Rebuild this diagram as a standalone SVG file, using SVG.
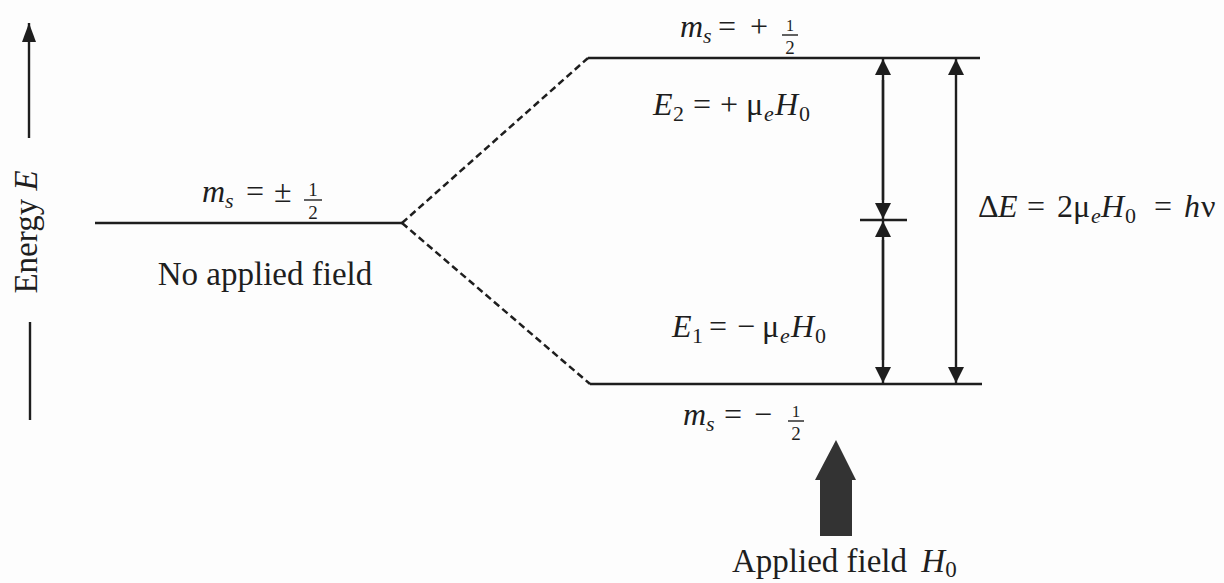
<svg xmlns="http://www.w3.org/2000/svg" width="1224" height="583" viewBox="0 0 1224 583">
<defs>
<style>
text{font-family:"Liberation Serif","Times New Roman",serif;font-size:32px;fill:#1e1e1e}
.big{font-size:33px}
.i{font-style:italic}
.sub{font-size:22px}
.fr{font-size:19px;text-anchor:middle}
.lvl{stroke:#1e1e1e;stroke-width:2.5;fill:none}
.bar{stroke:#1e1e1e;stroke-width:1.4}
.dash{stroke:#1e1e1e;stroke-width:2.5;stroke-dasharray:7,4;fill:none}
.ar{stroke:#1e1e1e;stroke-width:2.4;fill:none}
</style>
<marker id="ah" viewBox="0 0 16 16" refX="16" refY="8" markerWidth="16" markerHeight="16" markerUnits="userSpaceOnUse" orient="auto">
<path d="M0,0 L16,8 L0,16 Z" fill="#1e1e1e"/>
</marker>
<marker id="ahE" viewBox="0 0 19 14" refX="19" refY="7" markerWidth="19" markerHeight="14" markerUnits="userSpaceOnUse" orient="auto">
<path d="M0,0 L19,7 L0,14 Z" fill="#1e1e1e"/>
</marker>
</defs>
<rect width="1224" height="583" fill="#fdfdfd"/>

<g id="energy-axis">
<line class="ar" x1="29" y1="138" x2="29" y2="23" marker-end="url(#ahE)"/>
<line class="ar" x1="30" y1="322" x2="30" y2="420"/>
<text class="big" transform="translate(37,232) rotate(-90)" text-anchor="middle">Energy <tspan class="i">E</tspan></text>
</g>

<g id="level-zero">
<line class="lvl" x1="95" y1="223" x2="402" y2="223"/>
<text x="202" y="202" class="i">m<tspan class="sub" dy="6">s</tspan></text>
<text x="246" y="202">=</text>
<text x="274" y="202">±</text>
<text class="fr"><tspan x="313" y="196">1</tspan><tspan x="313" y="219">2</tspan></text>
<line class="bar" x1="304" y1="200" x2="322" y2="200"/>
<text x="265" y="285" class="big" text-anchor="middle">No applied field</text>
</g>

<g id="level-upper">
<line class="lvl" x1="588" y1="58" x2="980" y2="58"/>
<text x="680" y="37" class="i">m<tspan class="sub" dy="6">s</tspan></text>
<text x="718" y="37">=</text>
<text x="750" y="37">+</text>
<text class="fr"><tspan x="790" y="31" style="font-size:16px">1</tspan><tspan x="790" y="54">2</tspan></text>
<line class="bar" x1="782" y1="35" x2="798" y2="35"/>
<text x="653" y="115" class="i">E</text><text x="673" y="121" class="sub">2</text>
<text x="693" y="115">=</text>
<text x="720" y="115">+</text>
<text x="746" y="115">μ</text><text x="764" y="121" class="sub i">e</text>
<text x="775" y="115" class="i">H</text><text x="799" y="121" class="sub">0</text>
</g>

<g id="level-lower">
<line class="lvl" x1="590" y1="384" x2="982" y2="384"/>
<text x="672" y="337" class="i">E</text><text x="692" y="343" class="sub">1</text>
<text x="709" y="337">=</text>
<text x="737" y="337">−</text>
<text x="762" y="337">μ</text><text x="780" y="343" class="sub i">e</text>
<text x="791" y="337" class="i">H</text><text x="815" y="343" class="sub">0</text>
<text x="683" y="425" class="i">m<tspan class="sub" dy="6">s</tspan></text>
<text x="724" y="425">=</text>
<text x="754" y="425">−</text>
<text class="fr"><tspan x="796" y="417" style="font-size:17px">1</tspan><tspan x="796" y="440">2</tspan></text>
<line class="bar" x1="788" y1="421" x2="804" y2="421"/>
</g>

<g id="field-arrow">
<path d="M836,440 L856,480 L852,480 L852,536 L820,536 L820,480 L815,480 Z" fill="#333"/>
<text x="732" y="572" class="big">Applied field <tspan class="i" dx="6">H</tspan><tspan class="sub" dy="5" style="font-size:23px">0</tspan></text>
</g>

<g id="delta-label">
<text x="978" y="217">Δ</text><text x="998" y="217" class="i">E</text>
<text x="1027" y="217">=</text>
<text x="1057" y="217">2</text>
<text x="1073" y="217">μ</text><text x="1091" y="223" class="sub i">e</text>
<text x="1101" y="217" class="i">H</text><text x="1125" y="223" class="sub">0</text>
<text x="1154" y="217">=</text>
<text x="1184" y="217" class="i">h</text><text x="1201" y="217">ν</text>
</g>

<g id="connectors">
<line class="dash" x1="402" y1="223" x2="588" y2="58"/>
<line class="dash" x1="402" y1="223" x2="590" y2="384"/>
<line class="ar" x1="883" y1="200" x2="883" y2="59" marker-end="url(#ah)"/>
<line class="ar" x1="883" y1="80" x2="883" y2="219" marker-end="url(#ah)"/>
<line class="ar" x1="883" y1="360" x2="883" y2="221" marker-end="url(#ah)"/>
<line class="ar" x1="883" y1="240" x2="883" y2="383" marker-end="url(#ah)"/>
<line class="ar" x1="860" y1="220" x2="907" y2="220"/>
<line class="ar" x1="956" y1="220" x2="956" y2="59" marker-end="url(#ah)"/>
<line class="ar" x1="956" y1="220" x2="956" y2="383" marker-end="url(#ah)"/>
</g>
</svg>
